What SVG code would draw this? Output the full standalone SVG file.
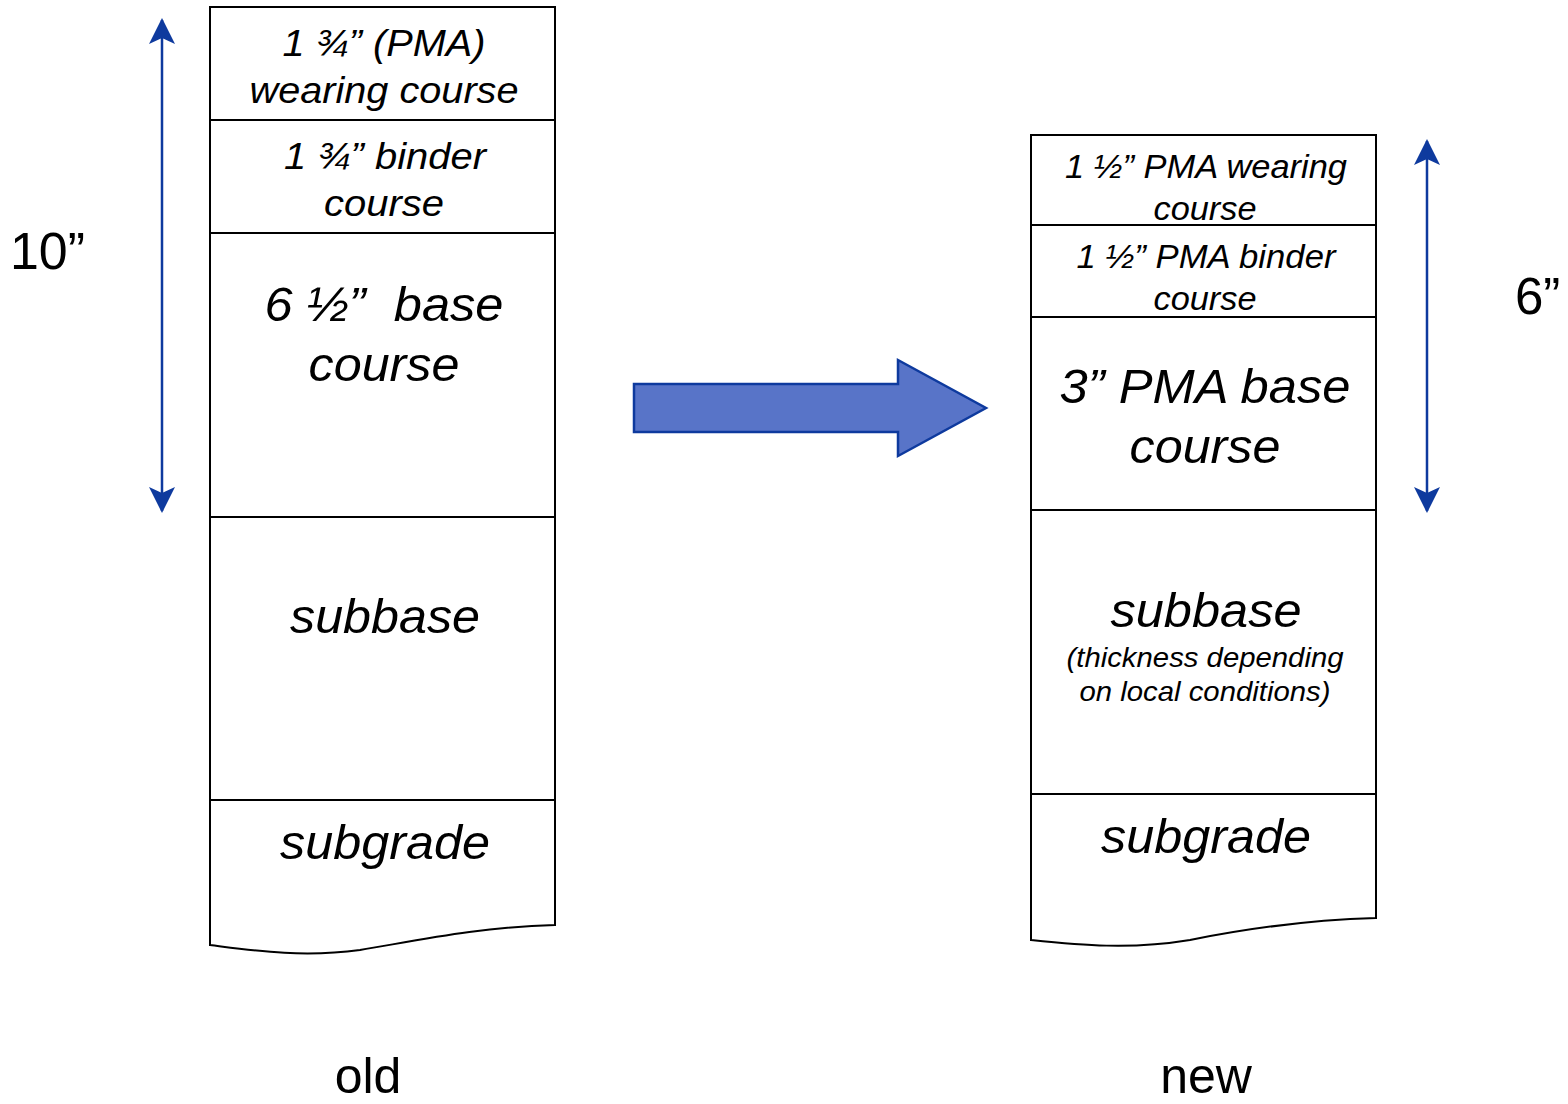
<svg xmlns="http://www.w3.org/2000/svg" width="1568" height="1104" viewBox="0 0 1568 1104">
  <style>
    .layer { fill: #ffffff; stroke: #000000; stroke-width: 2; }
    .div { stroke: #000000; stroke-width: 2; fill: none; }
    .t { font-family: "Liberation Sans", Arial, sans-serif; font-style: italic; fill: #000000; text-anchor: middle; }
    .lbl { font-family: "Liberation Sans", Arial, sans-serif; fill: #000000; }
    .dim { stroke: #0E3A9E; stroke-width: 2.5; fill: none; }
  </style>
  <defs>
    <marker id="head" viewBox="0 0 26 26" refX="24" refY="13" markerWidth="26" markerHeight="26" markerUnits="userSpaceOnUse" orient="auto-start-reverse">
      <path d="M0,0 L26,13 L0,26 L6,13 Z" fill="#0E3A9E"/>
    </marker>
  </defs>

  <rect width="1568" height="1104" fill="#ffffff"/>

  <!-- old pavement section -->
  <g id="old-section">
    <path class="layer" d="M210,7 H555 V925 C480,927 420,940 360,950 C300,958 250,950 210,945 Z"/>
    <line class="div" x1="210" y1="120" x2="555" y2="120"/>
    <line class="div" x1="210" y1="233" x2="555" y2="233"/>
    <line class="div" x1="210" y1="517" x2="555" y2="517"/>
    <line class="div" x1="210" y1="800" x2="555" y2="800"/>
  </g>
  <g id="old-wearing">
    <text class="t" x="384" y="56" font-size="37" textLength="203" lengthAdjust="spacingAndGlyphs">1 ¾” (PMA)</text>
    <text class="t" x="384" y="103" font-size="37" textLength="269" lengthAdjust="spacingAndGlyphs">wearing course</text>
  </g>
  <g id="old-binder">
    <text class="t" x="385" y="169" font-size="37" textLength="202" lengthAdjust="spacingAndGlyphs">1 ¾” binder</text>
    <text class="t" x="384" y="216" font-size="37" textLength="120" lengthAdjust="spacingAndGlyphs">course</text>
  </g>
  <g id="old-base">
    <text class="t" x="384" y="321" font-size="49" textLength="239" lengthAdjust="spacingAndGlyphs" xml:space="preserve">6 ½”  base</text>
    <text class="t" x="384" y="381" font-size="49" textLength="151" lengthAdjust="spacingAndGlyphs">course</text>
  </g>
  <g id="old-subbase">
    <text class="t" x="385" y="633" font-size="49" textLength="190" lengthAdjust="spacingAndGlyphs">subbase</text>
  </g>
  <g id="old-subgrade">
    <text class="t" x="385" y="859" font-size="49" textLength="210" lengthAdjust="spacingAndGlyphs">subgrade</text>
  </g>

  <!-- new pavement section -->
  <g id="new-section">
    <path class="layer" d="M1031,135 H1376 V918 C1300,920 1240,930 1190,940 C1130,950 1080,945 1031,940 Z"/>
    <line class="div" x1="1031" y1="225" x2="1376" y2="225"/>
    <line class="div" x1="1031" y1="317" x2="1376" y2="317"/>
    <line class="div" x1="1031" y1="510" x2="1376" y2="510"/>
    <line class="div" x1="1031" y1="794" x2="1376" y2="794"/>
  </g>
  <g id="new-wearing">
    <text class="t" x="1206" y="178" font-size="33" textLength="282" lengthAdjust="spacingAndGlyphs">1 ½” PMA wearing</text>
    <text class="t" x="1205" y="220" font-size="33" textLength="103" lengthAdjust="spacingAndGlyphs">course</text>
  </g>
  <g id="new-binder">
    <text class="t" x="1206" y="268" font-size="33" textLength="259" lengthAdjust="spacingAndGlyphs">1 ½” PMA binder</text>
    <text class="t" x="1205" y="310" font-size="33" textLength="103" lengthAdjust="spacingAndGlyphs">course</text>
  </g>
  <g id="new-base">
    <text class="t" x="1205" y="403" font-size="49" textLength="291" lengthAdjust="spacingAndGlyphs">3” PMA base</text>
    <text class="t" x="1205" y="463" font-size="49" textLength="151" lengthAdjust="spacingAndGlyphs">course</text>
  </g>
  <g id="new-subbase">
    <text class="t" x="1206" y="627" font-size="49" textLength="191" lengthAdjust="spacingAndGlyphs">subbase</text>
    <text class="t" x="1205" y="667" font-size="28" textLength="277" lengthAdjust="spacingAndGlyphs">(thickness depending</text>
    <text class="t" x="1205" y="701" font-size="28" textLength="251" lengthAdjust="spacingAndGlyphs">on local conditions)</text>
  </g>
  <g id="new-subgrade">
    <text class="t" x="1206" y="853" font-size="49" textLength="210" lengthAdjust="spacingAndGlyphs">subgrade</text>
  </g>

  <!-- connectors: thickness dimensions and transition arrow -->
  <g id="connectors">
    <line class="dim" x1="162" y1="20" x2="162" y2="511" marker-start="url(#head)" marker-end="url(#head)"/>
    <line class="dim" x1="1427" y1="141" x2="1427" y2="511" marker-start="url(#head)" marker-end="url(#head)"/>
    <path d="M634,384 H898 V360 L986,408 L898,456 V432 H634 Z" fill="#5874C8" stroke="#0E3A9E" stroke-width="2.5" stroke-linejoin="miter"/>
  </g>

  <!-- dimension and caption labels -->
  <g id="label-10">
    <text class="lbl" x="10" y="269" font-size="51" textLength="75" lengthAdjust="spacingAndGlyphs">10”</text>
  </g>
  <g id="label-6">
    <text class="lbl" x="1515" y="314" font-size="51">6”</text>
  </g>
  <g id="caption-old">
    <text class="lbl" x="368" y="1093" font-size="50" text-anchor="middle">old</text>
  </g>
  <g id="caption-new">
    <text class="lbl" x="1206" y="1093" font-size="50" text-anchor="middle">new</text>
  </g>
</svg>
